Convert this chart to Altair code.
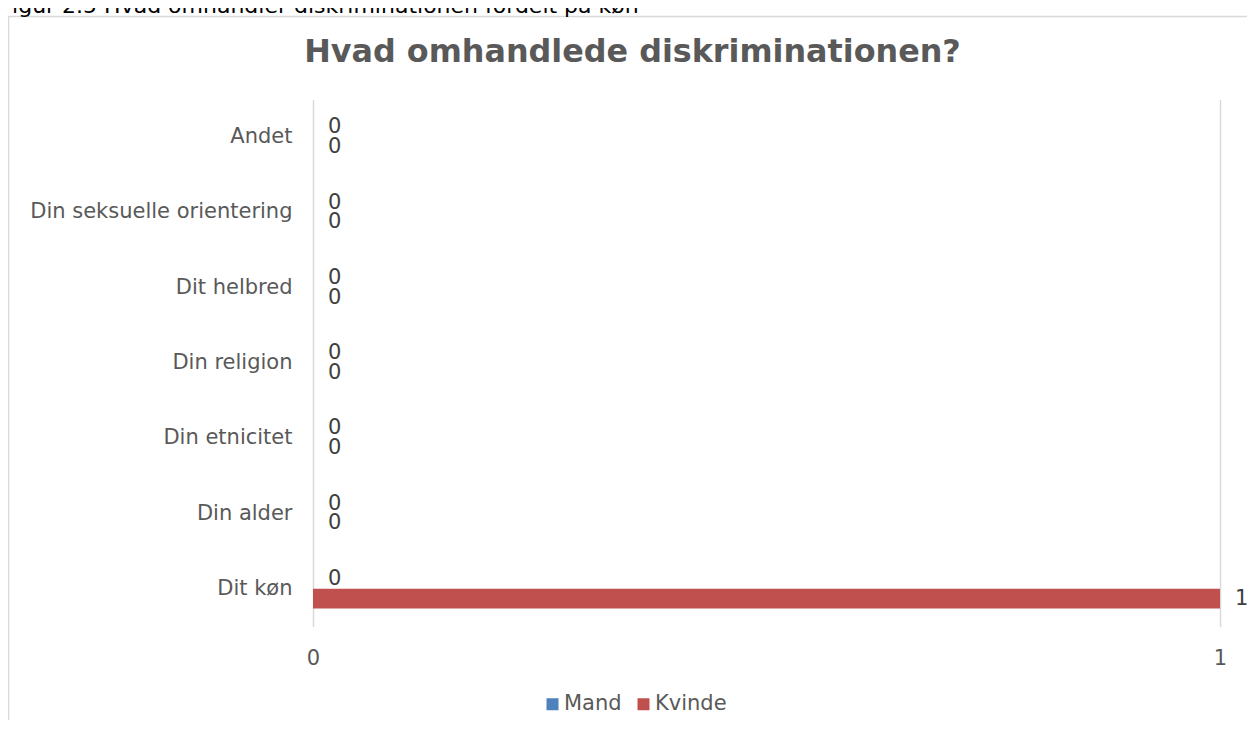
import altair as alt
import pandas as pd

categories = ["Andet", "Din seksuelle orientering", "Dit helbred", "Din religion",
              "Din etnicitet", "Din alder", "Dit køn"]
series = ["Mand", "Kvinde"]
mand = [0, 0, 0, 0, 0, 0, 0]
kvinde = [0, 0, 0, 0, 0, 0, 1]
colors = ["#4F81BD", "#C0504D"]
title_text = "Hvad omhandlede diskriminationen?"
caption_text = "Figur 2.5 Hvad omhandler diskriminationen fordelt på køn"

rows = []
for c, m, k in zip(categories, mand, kvinde):
    rows.append({"kategori": c, "køn": "Mand", "værdi": m})
    rows.append({"kategori": c, "køn": "Kvinde", "værdi": k})
df = pd.DataFrame(rows)

FONT = "DejaVu Sans"
GRAY = "#595959"
FS = 21
PW, PH = 907, 527
PAD_L, PAD_T = 305, 91.5

y_enc = alt.Y("kategori:N", sort=categories,
              scale=alt.Scale(paddingInner=0.48, paddingOuter=0.24),
              axis=alt.Axis(title=None, domain=False, ticks=False, labelPadding=21,
                            labelLimit=400, grid=False,
                            labelFont=FONT, labelFontSize=FS, labelColor=GRAY))
yoff = alt.YOffset("køn:N", sort=series)
x_enc = alt.X("værdi:Q", scale=alt.Scale(domain=[0, 1], nice=False),
              axis=alt.Axis(title=None, values=[0, 1], format="d", domain=False, ticks=False,
                            labelFlush=False, labelPadding=21, labelFont=FONT,
                            labelFontSize=FS, labelColor=GRAY,
                            gridColor="#D9D9D9", gridWidth=1.5))

base = alt.Chart(df)
bars = base.mark_bar().encode(
    x=x_enc, y=y_enc, yOffset=yoff,
    color=alt.Color("køn:N", sort=series,
                    scale=alt.Scale(domain=series, range=colors),
                    legend=alt.Legend(title=None, orient="none", direction="horizontal",
                                      legendX=229, legendY=594, symbolType="square",
                                      symbolSize=144, symbolStrokeWidth=0,
                                      labelFont=FONT, labelFontSize=FS, labelColor=GRAY,
                                      labelOffset=1, columnPadding=11)),
)
labels = base.mark_text(align="left", baseline="middle", dx=15, font=FONT,
                        fontSize=FS, color="#404040").encode(
    x="værdi:Q", y=alt.Y("kategori:N", sort=categories), yOffset=yoff,
    text=alt.Text("værdi:Q", format="d"),
)

title = alt.Chart(pd.DataFrame({"t": [title_text]})).mark_text(
    font=FONT, fontSize=31.8, fontWeight="bold", color=GRAY,
    align="center", baseline="alphabetic").encode(
    text="t:N", x=alt.value(624.5 - PAD_L), y=alt.value(53.5 - PAD_T))
cap = alt.Chart(pd.DataFrame({"t": [caption_text]})).mark_text(
    font=FONT, fontSize=22, color="#000000", align="left", baseline="alphabetic").encode(
    text="t:N", x=alt.value(-PAD_L - 7), y=alt.value(-PAD_T + 4.5))
border = alt.Chart(pd.DataFrame({"t": [1]})).mark_rect(
    fill=None, stroke="#D9D9D9", strokeWidth=1.5).encode(
    x=alt.value(-PAD_L + 0.5), x2=alt.value(3000), y=alt.value(-PAD_T + 8.5), y2=alt.value(3000))

chart = alt.layer(border, cap, title, bars, labels).properties(
    width=PW, height=PH,
    background="white",
    autosize=alt.AutoSizeParams(type="none"),
    padding={"left": PAD_L, "top": PAD_T, "right": 27, "bottom": 93},
).configure_view(strokeWidth=0, stroke="transparent")

chart.save("out.html", embed_options={"renderer": "svg", "actions": False})
